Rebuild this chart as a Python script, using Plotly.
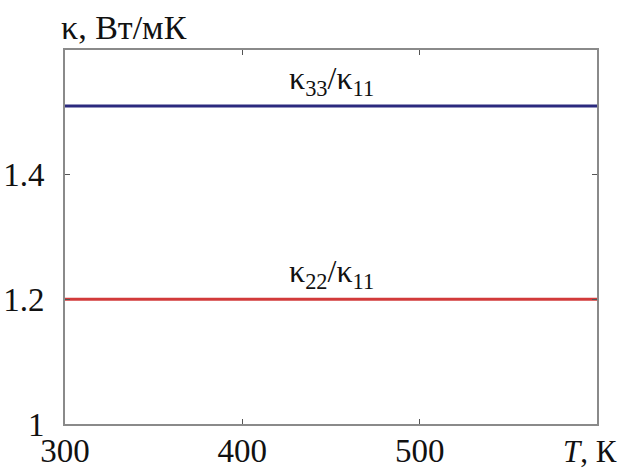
import plotly.graph_objects as go

# Temperature span and anisotropy ratios of thermal conductivity
temperature = [300, 600]
ratio_33_11 = [1.51, 1.51]
ratio_22_11 = [1.2, 1.2]

x_tick_vals = [300, 400, 500, 600]
x_tick_text = ["300", "400", "500", ""]
y_tick_vals = [1.0, 1.2, 1.4, 1.6]
y_tick_text = ["1", "1.2", "1.4", ""]

SERIF = "'Times New Roman', 'Liberation Serif', serif"

fig = go.Figure()
fig.add_trace(go.Scatter(x=temperature, y=ratio_33_11, mode="lines",
                         line=dict(color="#2b2a7e", width=3), showlegend=False))
fig.add_trace(go.Scatter(x=temperature, y=ratio_22_11, mode="lines",
                         line=dict(color="#d23a3a", width=3), showlegend=False))

axis_common = dict(showgrid=False, zeroline=False, showline=True, linecolor="#8a8a8a",
                   linewidth=2, mirror="ticks", ticks="inside", ticklen=5,
                   tickcolor="#555555", tickwidth=1, automargin=False,
                   tickfont=dict(family=SERIF, size=33, color="#111111"))

fig.update_xaxes(range=[300, 600], tickvals=x_tick_vals, ticktext=x_tick_text,
                 ticklabelstandoff=-4, **axis_common)
fig.update_yaxes(range=[1.0, 1.6], tickvals=y_tick_vals, ticktext=y_tick_text,
                 ticklabelstandoff=12, **axis_common)

label_font = dict(family=SERIF, size=32, color="#111111")
fig.add_annotation(x=450, y=ratio_33_11[0], yshift=3, text="κ<sub>33</sub>/κ<sub>11</sub>",
                   showarrow=False, yanchor="bottom", font=label_font)
fig.add_annotation(x=450, y=ratio_22_11[0], yshift=3, text="κ<sub>22</sub>/κ<sub>11</sub>",
                   showarrow=False, yanchor="bottom", font=label_font)

fig.add_annotation(xref="paper", yref="paper", x=0, y=1, xshift=-6, yshift=2,
                   xanchor="left", yanchor="bottom", showarrow=False,
                   text="κ, Вт/мК", font=dict(family=SERIF, size=34, color="#111111"))
fig.add_annotation(xref="paper", yref="paper", x=1, xshift=22, y=0, yshift=-8,
                   xanchor="right", yanchor="top", showarrow=False,
                   text="<i>T</i>, К", font=dict(family=SERIF, size=31, color="#111111"))

fig.update_layout(width=626, height=468, plot_bgcolor="white", paper_bgcolor="white",
                  margin=dict(l=65, r=29, t=50, b=44))

fig.write_html("out.html")
